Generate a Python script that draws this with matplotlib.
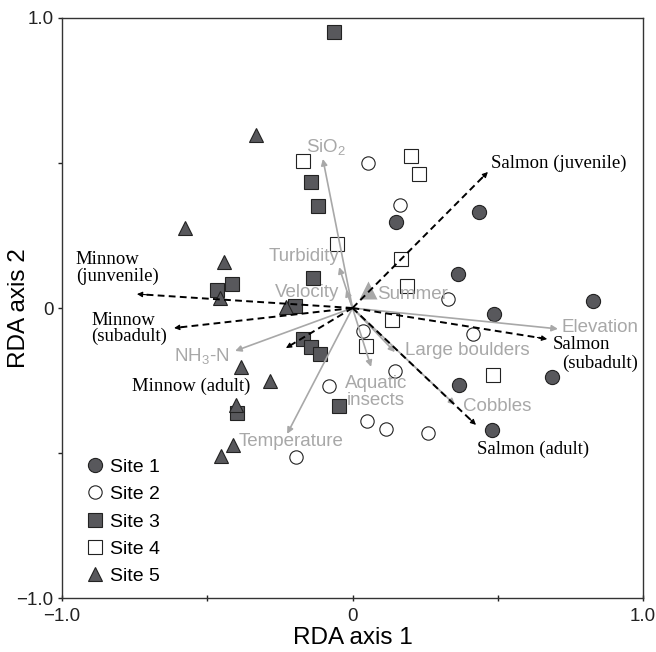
import matplotlib
matplotlib.use("Agg")
import matplotlib.pyplot as plt

plt.rcParams['font.family'] = ['Liberation Sans', 'DejaVu Sans']
plt.rcParams['mathtext.fontset'] = 'custom'
plt.rcParams['mathtext.rm'] = 'Liberation Sans'
plt.rcParams['mathtext.it'] = 'Liberation Sans'

# Site scores (RDA axis 1, RDA axis 2)
site1_x = [0.150, 0.435, 0.363, 0.487, 0.828, 0.367, 0.687, 0.480]
site1_y = [0.297, 0.331, 0.117, -0.021, 0.024, -0.266, -0.238, -0.421]

site2_x = [0.053, 0.164, 0.329, 0.036, 0.415, 0.146, -0.081, 0.050, 0.115, 0.260, -0.194]
site2_y = [0.500, 0.355, 0.031, -0.079, -0.090, -0.217, -0.269, -0.390, -0.417, -0.431, -0.514]

site3_x = [-0.064, -0.143, -0.119, -0.136, -0.198, -0.466, -0.415, -0.170, -0.143, -0.112, -0.046, -0.398]
site3_y = [0.952, 0.434, 0.352, 0.103, 0.007, 0.062, 0.083, -0.107, -0.134, -0.159, -0.338, -0.362]

site4_x = [-0.170, 0.201, 0.229, -0.053, 0.167, 0.188, 0.136, 0.046, 0.484]
site4_y = [0.507, 0.524, 0.462, 0.221, 0.169, 0.076, -0.041, -0.131, -0.231]

site5_x = [-0.332, -0.576, -0.442, -0.456, -0.229, -0.384, -0.284, -0.401, -0.411, -0.453]
site5_y = [0.597, 0.276, 0.159, 0.034, 0.003, -0.203, -0.252, -0.334, -0.472, -0.510]

# Environmental variables (biplot arrows)
env_names = ["SiO$_2$", "Turbidity", "Velocity", "NH$_3$-N", "Temperature",
             "Aquatic\ninsects", "Large boulders", "Cobbles", "Elevation"]
env_x = [-0.102, -0.046, -0.022, -0.404, -0.225, 0.064, 0.146, 0.353, 0.707]
env_y = [0.514, 0.141, 0.062, -0.148, -0.434, -0.203, -0.152, -0.334, -0.072]

# Nominal variable centroid
summer_x, summer_y = 0.053, 0.062

# Species arrows
species_names = ["Salmon (juvenile)", "Salmon\n(subadult)", "Salmon (adult)",
                 "Minnow\n(junvenile)", "Minnow\n(subadult)", "Minnow (adult)"]
species_x = [0.466, 0.670, 0.425, -0.742, -0.614, -0.229]
species_y = [0.469, -0.107, -0.403, 0.048, -0.069, -0.138]

# label placement (x, y, ha)
env_label_pos = [(-0.091, 0.555, 'center'), (-0.046, 0.176, 'right'), (-0.046, 0.052, 'right'),
                 (-0.425, -0.165, 'right'), (-0.391, -0.459, 'left'), (0.081, -0.290, 'center'),
                 (0.181, -0.148, 'left'), (0.380, -0.341, 'left'), (0.718, -0.066, 'left')]
species_label_pos = [(0.477, 0.500, 'left'), (0.690, -0.160, 'left'), (0.429, -0.486, 'left'),
                     (-0.952, 0.138, 'left'), (-0.900, -0.071, 'left'), (-0.759, -0.269, 'left')]

dark = '#58585c'
grey = '#a8a8a8'


def main():
    fig = plt.figure(figsize=(6.56, 6.52), dpi=100)
    ax = fig.add_axes([0.0945, 0.0828, 0.8857, 0.8896])

    ms = 10.2
    ax.plot(site1_x, site1_y, 'o', ms=ms, mfc=dark, mec='#222222', mew=0.8, ls='none', label='Site 1', zorder=3)
    ax.plot(site2_x, site2_y, 'o', ms=ms - 0.6, mfc='white', mec='#222222', mew=0.8, ls='none', label='Site 2', zorder=3)
    ax.plot(site3_x, site3_y, 's', ms=ms, mfc=dark, mec='#222222', mew=0.8, ls='none', label='Site 3', zorder=3)
    ax.plot(site4_x, site4_y, 's', ms=ms, mfc='white', mec='#222222', mew=0.8, ls='none', label='Site 4', zorder=3)
    ax.plot(site5_x, site5_y, '^', ms=ms + 0.5, mfc=dark, mec='#222222', mew=0.8, ls='none', label='Site 5', zorder=3)

    ax.plot([summer_x], [summer_y], '^', ms=13, mfc=grey, mec='none', zorder=4)
    ax.text(summer_x + 0.031, summer_y - 0.017, "Summer", color=grey, fontsize=13.5,
            ha='left', va='center', zorder=6)

    # environmental arrows
    for name, x, y, (lx, ly, ha) in zip(env_names, env_x, env_y, env_label_pos):
        ax.annotate("", xy=(x, y), xytext=(0, 0),
                    arrowprops=dict(arrowstyle='-|>', color=grey, lw=1.2,
                                    mutation_scale=9, shrinkA=0, shrinkB=0), zorder=5)
        ax.text(lx, ly, name, color=grey, fontsize=13.5, ha=ha, va='center',
                multialignment='center', linespacing=0.95, zorder=6)

    # species arrows
    for name, x, y, (lx, ly, ha) in zip(species_names, species_x, species_y, species_label_pos):
        ax.plot([0, x * 0.97], [0, y * 0.97], color='black', lw=1.4, ls=(0, (3.5, 2.2)), zorder=5)
        ax.annotate("", xy=(x, y), xytext=(x * 0.95, y * 0.95),
                    arrowprops=dict(arrowstyle='-|>', color='black', lw=0.8,
                                    mutation_scale=8, shrinkA=0, shrinkB=0), zorder=5)
        if name == "Salmon\n(subadult)":
            ax.text(lx, ly + 0.035, "Salmon", fontsize=13.5, family='Liberation Serif',
                    ha='left', va='center', zorder=6)
            ax.text(lx + 0.031, ly - 0.030, "(subadult)", fontsize=13.5, family='Liberation Serif',
                    ha='left', va='center', zorder=6)
        else:
            ax.text(lx, ly, name, fontsize=13.5, family='Liberation Serif', ha=ha,
                    va='center', linespacing=0.95, zorder=6)

    ax.set_xlim(-1, 1)
    ax.set_ylim(-1, 1)
    ax.set_xticks([-1, -0.5, 0, 0.5, 1])
    ax.set_xticklabels(['\u22121.0', '', '0', '', '1.0'])
    ax.set_yticks([-1, -0.5, 0, 0.5, 1])
    ax.set_yticklabels(['\u22121.0', '', '0', '', '1.0'])
    ax.tick_params(axis='x', direction='inout', length=5, width=1.0, labelsize=13.5, pad=5, colors='#222222')
    ax.tick_params(axis='y', direction='out', length=3, width=1.0, labelsize=13.5, pad=3, colors='#222222')
    for sp in ax.spines.values():
        sp.set_linewidth(1.0)
        sp.set_color('#333333')

    ax.set_xlabel("RDA axis 1", fontsize=17.5, va='top')
    ax.xaxis.set_label_coords(0.5, -0.050)
    ax.set_ylabel("RDA axis 2", fontsize=17.5)
    ax.yaxis.set_label_coords(-0.055, 0.5)

    ax.legend(loc='lower left', bbox_to_anchor=(0.043, 0.022), frameon=False, fontsize=14,
              handlelength=0.8, handletextpad=0.4, labelspacing=0.5, borderpad=0, borderaxespad=0)

    fig.savefig("out.png", dpi=100)


if __name__ == "__main__":
    main()
